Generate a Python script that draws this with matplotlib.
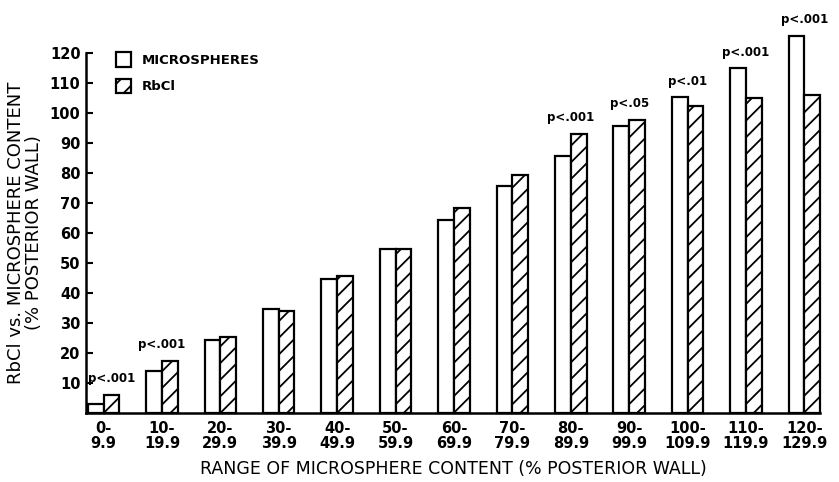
import matplotlib.pyplot as plt
import numpy as np

plt.rcParams['hatch.linewidth'] = 1.3

ranges = ['0-\n9.9', '10-\n19.9', '20-\n29.9', '30-\n39.9', '40-\n49.9', '50-\n59.9',
          '60-\n69.9', '70-\n79.9', '80-\n89.9', '90-\n99.9', '100-\n109.9',
          '110-\n119.9', '120-\n129.9']
microspheres = [3.0, 14.0, 24.2, 34.7, 44.7, 54.8, 64.3, 75.7, 85.7, 95.7, 105.2, 114.9, 125.8]
rbcl = [6.0, 17.4, 25.2, 33.9, 45.8, 54.6, 68.2, 79.3, 93.0, 97.7, 102.3, 105.1, 106.0]
p_values = ['p<.001', 'p<.001', '', '', '', '', '', '', 'p<.001', 'p<.05', 'p<.01',
            'p<.001', 'p<.001']
yticks = [10, 20, 30, 40, 50, 60, 70, 80, 90, 100, 110, 120]

x = np.arange(len(ranges))
w = 0.27

fig = plt.figure(figsize=(8.39, 4.82), dpi=100)
ax = fig.add_axes([0.1025, 0.143, 0.875, 0.747])

ax.bar(x - w / 2, microspheres, w, color='white', edgecolor='black', linewidth=1.6,
       clip_on=False, label='MICROSPHERES')
ax.bar(x + w / 2, rbcl, w, color='white', edgecolor='black', linewidth=1.6,
       hatch='//', clip_on=False, label='RbCl')

for i, (label, m, r) in enumerate(zip(p_values, microspheres, rbcl)):
    if label:
        # first label sits a little right so it clears the "10" tick
        dx = 6 if i == 0 else 0
        ax.annotate(label, (x[i], max(m, r)), xytext=(dx, 7), textcoords='offset points',
                    ha='center', va='bottom', fontsize=8.5, fontweight='bold',
                    annotation_clip=False)

ax.set_xlim(-0.30, 12.27)
ax.set_ylim(0, 120)
ax.set_yticks(yticks)
ax.set_xticks(x)
ax.set_xticklabels(ranges, fontsize=10.5, fontweight='bold', linespacing=1.0)
ax.tick_params(axis='x', length=0, pad=6)
ax.tick_params(axis='y', direction='in', length=5, width=1.5, labelsize=10.5, pad=4)
for t in ax.get_yticklabels():
    t.set_fontweight('bold')

for side in ['top', 'right']:
    ax.spines[side].set_visible(False)
for side in ['left', 'bottom']:
    ax.spines[side].set_linewidth(1.8)

ax.set_xlabel('RANGE OF MICROSPHERE CONTENT (% POSTERIOR WALL)', fontsize=12.5, labelpad=6)
ax.set_ylabel('RbCl vs. MICROSPHERE CONTENT\n(% POSTERIOR WALL)', fontsize=13,
              linespacing=1.0, labelpad=5)

ax.legend(loc='upper left', bbox_to_anchor=(0.025, 1.035), frameon=False,
          prop={'weight': 'bold', 'size': 9.5}, handlelength=1.1, handleheight=1.3,
          handletextpad=0.8, labelspacing=0.9)

fig.savefig('out.png', dpi=100)
